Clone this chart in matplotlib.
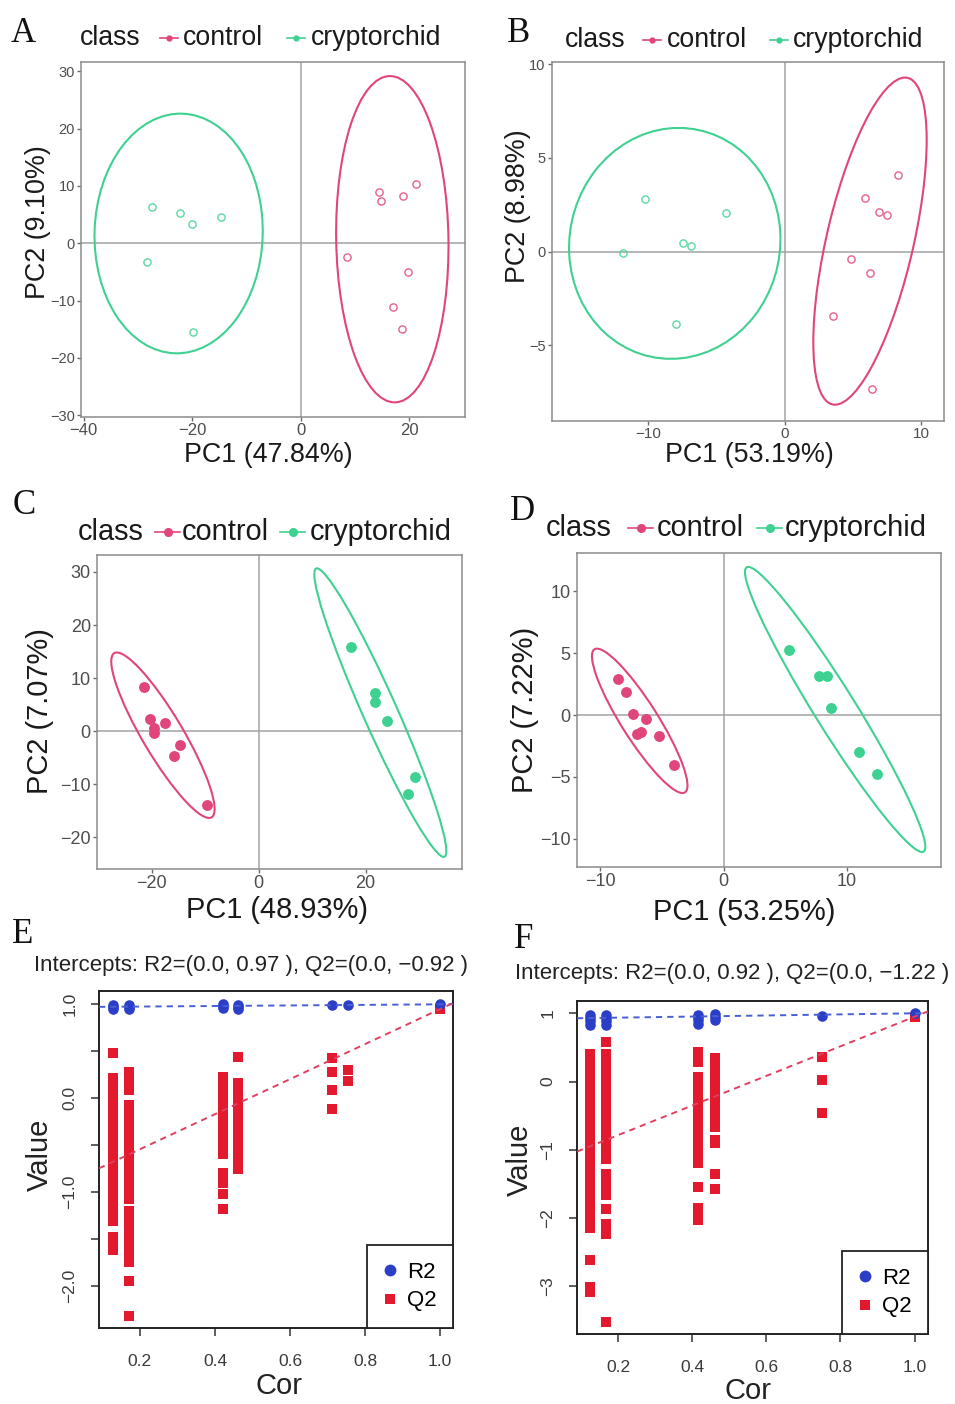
import numpy as np
import matplotlib
matplotlib.use("Agg")
import matplotlib.pyplot as plt
from matplotlib.patches import Ellipse
from matplotlib.lines import Line2D

W, H = 955, 1404
plt.rcParams['font.family'] = ['Liberation Sans', 'DejaVu Sans']

# ---------------- score plots (A-D) ----------------
# A  (PCA, hollow points)
a_ctrl_x = [14.4, 14.9, 18.8, 21.3, 8.5, 19.8, 17.0, 18.7]
a_ctrl_y = [9.0, 7.4, 8.3, 10.3, -2.4, -5.0, -11.2, -15.0]
a_cryp_x = [-27.5, -22.2, -20.1, -14.6, -28.4, -19.9]
a_cryp_y = [6.3, 5.2, 3.3, 4.5, -3.2, -15.5]
# ellipses: centre x, centre y, major, minor, angle (deg, data space)
a_ctrl_ell = (16.9, 0.7, 56.9, 20.7, 91.0)
a_cryp_ell = (-22.5, 1.7, 41.8, 31.0, 88.0)

# B
b_ctrl_x = [8.32, 5.88, 6.93, 7.49, 4.83, 6.24, 3.54, 6.41]
b_ctrl_y = [4.09, 2.88, 2.10, 1.94, -0.41, -1.16, -3.42, -7.35]
b_cryp_x = [-10.24, -4.32, -7.46, -6.88, -11.83, -7.95]
b_cryp_y = [2.81, 2.05, 0.44, 0.30, -0.05, -3.86]
b_ctrl_ell = (6.24, 0.56, 18.3, 6.23, 71.4)
b_cryp_ell = (-8.06, 0.44, 15.5, 12.3, 4.6)

# C (filled points)
c_ctrl_x = [-21.37, -20.31, -19.5, -19.5, -17.45, -14.64, -15.89, -9.66]
c_ctrl_y = [8.28, 2.32, 0.6, -0.4, 1.44, -2.70, -4.71, -13.86]
c_cryp_x = [17.26, 21.74, 21.74, 23.99, 29.16, 27.98]
c_cryp_y = [15.93, 7.15, 5.40, 1.94, -8.6, -11.86]
c_ctrl_ell = (-17.88, -0.78, 35.9, 7.6, 120.4)
c_cryp_ell = (22.74, 3.48, 59.4, 6.4, 113.8)

# D
d_ctrl_x = [-8.57, -7.89, -7.35, -6.32, -7.03, -6.68, -5.27, -4.0]
d_ctrl_y = [2.94, 1.83, 0.08, -0.35, -1.51, -1.40, -1.67, -4.04]
d_cryp_x = [5.30, 7.78, 8.43, 8.70, 10.97, 12.46]
d_cryp_y = [5.23, 3.18, 3.13, 0.54, -2.99, -4.74]
d_ctrl_ell = (-6.8, -0.47, 13.7, 2.96, 122.4)
d_cryp_ell = (9.06, 0.45, 27.1, 3.34, 122.0)

# ---------------- permutation tests (E, F) ----------------
e_cor = [0.129, 0.172, 0.42, 0.461, 0.711, 0.753, 1.0]
e_r2 = [[0.95, 0.97, 0.99], [0.95, 0.97, 0.99], [0.96, 0.98, 1.0],
        [0.95, 0.97, 0.99], [0.99], [0.99], [1.0]]
e_q2 = [
    [0.48, 0.21, 0.14, 0.06, -0.02, -0.09, -0.17, -0.25, -0.33, -0.40, -0.47,
     -0.55, -0.63, -0.70, -0.78, -0.86, -0.93, -1.01, -1.09, -1.16, -1.24,
     -1.31, -1.48, -1.56, -1.62],
    [0.28, 0.19, 0.09, -0.07, -0.15, -0.23, -0.31, -0.39, -0.47, -0.55, -0.62,
     -0.70, -0.78, -0.86, -0.93, -1.01, -1.08, -1.20, -1.27, -1.34, -1.45,
     -1.51, -1.59, -1.67, -1.75, -1.95, -2.33],
    [0.22, 0.14, 0.06, -0.02, -0.10, -0.18, -0.26, -0.34, -0.42, -0.50, -0.60,
     -0.80, -0.91, -1.02, -1.18],
    [0.44, 0.16, 0.08, -0.01, -0.09, -0.17, -0.25, -0.33, -0.41, -0.49, -0.57,
     -0.66, -0.76],
    [0.43, 0.28, 0.09, -0.12],
    [0.30, 0.18],
    [0.95],
]
e_int = (0.97, -0.92)
e_orig = (1.0, 0.95)

f_cor = [0.124, 0.167, 0.416, 0.462, 0.751, 1.0]
f_r2 = [[0.83, 0.88, 0.93, 0.98], [0.83, 0.88, 0.93, 0.98],
        [0.84, 0.90, 0.95, 0.98], [0.90, 0.95, 0.99], [0.96], [1.0]]
f_q2 = [
    [0.40, 0.29, 0.18, 0.07, -0.04, -0.15, -0.26, -0.37, -0.48, -0.59, -0.70,
     -0.81, -0.92, -1.03, -1.14, -1.25, -1.36, -1.47, -1.58, -1.69, -1.80,
     -1.91, -2.02, -2.15, -2.62, -3.01, -3.09],
    [0.58, 0.40, 0.29, 0.18, 0.07, -0.04, -0.15, -0.26, -0.37, -0.48, -0.59,
     -0.70, -0.81, -0.92, -1.02, -1.13, -1.35, -1.46, -1.57, -1.67, -1.87,
     -2.09, -2.23, -3.52],
    [0.43, 0.29, 0.07, -0.04, -0.15, -0.26, -0.37, -0.48, -0.59, -0.70, -0.81,
     -0.92, -1.03, -1.12, -1.20, -1.54, -1.86, -1.96, -2.03],
    [0.34, 0.23, 0.12, 0.01, -0.10, -0.21, -0.32, -0.43, -0.54, -0.66, -0.86,
     -0.90, -1.35, -1.57],
    [0.36, 0.02, -0.46],
    [0.95],
]
f_int = (0.92, -1.22)
f_orig = (1.0, 0.95)

CTRL = '#e0457b'
CRYP = '#3fd191'
BLUE = '#2a3ec8'
RED = '#e3192e'

fig = plt.figure(figsize=(W / 100, H / 100), dpi=100)


def fx(x):
    return x / W


def fy(y):
    return 1 - y / H


def px_axes(l, t, r, b):
    return fig.add_axes([l / W, 1 - b / H, (r - l) / W, (b - t) / H])


def score_panel(box, cx, cy, kx, ky, c_ell, k_ell, xlim, ylim, xt, yt,
                filled, fs_x, fs_y):
    ax = px_axes(*box)
    ax.axhline(0, color='#a3a3a3', lw=1.1, zorder=1)
    ax.axvline(0, color='#a3a3a3', lw=1.1, zorder=1)
    for ell, col in ((c_ell, CTRL), (k_ell, CRYP)):
        ax.add_patch(Ellipse((ell[0], ell[1]), ell[2], ell[3], angle=ell[4],
                             fill=False, ec=col, lw=1.5, zorder=2))
    for xs, ys, col in ((cx, cy, CTRL), (kx, ky, CRYP)):
        if filled:
            ax.plot(xs, ys, 'o', ms=6.8, color=col, zorder=3)
        else:
            ax.plot(xs, ys, 'o', ms=5.2, mfc='none', mec=col, mew=1.0,
                    alpha=0.85, zorder=3)
    ax.set_xlim(xlim)
    ax.set_ylim(ylim)
    ax.set_xticks(xt)
    ax.set_yticks(yt)
    for s in ax.spines.values():
        s.set_color('#8c8c8c')
        s.set_linewidth(1.1)
    ax.tick_params(colors='#6b6b6b', labelcolor='#4d4d4d', length=3, width=1,
                   pad=1.5)
    ax.tick_params(axis='x', labelsize=fs_x)
    ax.tick_params(axis='y', labelsize=fs_y)
    return ax


def class_legend(base, x_class, k1, t1, k2, t2, fs, keylen, ms):
    fig.text(fx(x_class), fy(base), 'class', fontsize=fs, va='baseline',
             ha='left', color='#1a1a1a')
    ky = base - fs * 1.39 * 0.27
    for xk, xt, col, lab in ((k1, t1, CTRL, 'control'),
                             (k2, t2, CRYP, 'cryptorchid')):
        fig.add_artist(Line2D([fx(xk), fx(xk + keylen)], [fy(ky), fy(ky)],
                              color=col, lw=1.2))
        fig.add_artist(Line2D([fx(xk + keylen / 2)], [fy(ky)], marker='o',
                              ms=ms, color=col, lw=0))
        fig.text(fx(xt), fy(base), lab, fontsize=fs, va='baseline', ha='left',
                 color='#1a1a1a')


def axis_labels(xl, xpos, yl, ypos, fs):
    fig.text(fx(xpos[0]), fy(xpos[1]), xl, fontsize=fs, ha='center',
             va='center', color='#1a1a1a')
    fig.text(fx(ypos[0]), fy(ypos[1]), yl, fontsize=fs, ha='center',
             va='center', rotation=90, color='#1a1a1a')


# ---- A ----
score_panel((81, 62, 465, 417), a_ctrl_x, a_ctrl_y, a_cryp_x, a_cryp_y,
            a_ctrl_ell, a_cryp_ell, (-40.5, 30.3), (-30.3, 31.6),
            [-40, -20, 0, 20], [-30, -20, -10, 0, 10, 20, 30], False, 12, 10.5)
class_legend(45, 80, 160, 183, 287, 311, 19.2, 18, 3.5)
axis_labels('PC1 (47.84%)', (268, 455), 'PC2 (9.10%)', (38, 222), 19.4)

# ---- B ----
score_panel((552, 62, 944, 421), b_ctrl_x, b_ctrl_y, b_cryp_x, b_cryp_y,
            b_ctrl_ell, b_cryp_ell, (-17.05, 11.66), (-9.04, 10.12),
            [-10, 0, 10], [-5, 0, 5, 10], False, 11, 10.5)
class_legend(47, 565, 643, 667, 770, 793, 19.2, 18, 3.5)
axis_labels('PC1 (53.19%)', (749, 455), 'PC2 (8.98%)', (518, 206), 19.4)

# ---- C ----
score_panel((97, 555, 462, 869), c_ctrl_x, c_ctrl_y, c_cryp_x, c_cryp_y,
            c_ctrl_ell, c_cryp_ell, (-30.2, 38.0), (-26.0, 33.2),
            [-20, 0, 20], [-20, -10, 0, 10, 20, 30], True, 13, 13)
class_legend(540, 78, 155, 182, 280, 310, 20.9, 25, 5.5)
axis_labels('PC1 (48.93%)', (277, 910), 'PC2 (7.07%)', (40, 711), 20.9)

# ---- D ----
score_panel((577, 553, 941, 867), d_ctrl_x, d_ctrl_y, d_cryp_x, d_cryp_y,
            d_ctrl_ell, d_cryp_ell, (-11.89, 17.65), (-12.29, 13.1),
            [-10, 0, 10], [-10, -5, 0, 5, 10], True, 13, 13)
class_legend(536, 546, 628, 657, 757, 785, 20.9, 25, 5.5)
axis_labels('PC1 (53.25%)', (744, 912), 'PC2 (7.22%)', (525, 710), 20.9)


# ---- permutation panels ----
def perm_panel(box, cor, r2, q2, ints, orig, xlim, ylim, yt, ylab, title,
               tpos, cpos, vpos):
    ax = px_axes(*box)
    rx = np.concatenate([[c] * len(v) for c, v in zip(cor, r2)])
    ry = np.concatenate(r2)
    qx = np.concatenate([[c] * len(v) for c, v in zip(cor, q2)])
    qy = np.concatenate(q2)
    ax.plot(qx, qy, 's', ms=7.0, color=RED, mew=0, zorder=2)
    ax.plot(rx, ry, 'o', ms=7.6, color=BLUE, mew=0, zorder=2)
    ax.axline((0, ints[0]), (1, orig[0]), color='#4a5fd6', lw=1.4,
              ls=(0, (3.2, 2.6)), zorder=3)
    ax.axline((0, ints[1]), (1, orig[1]), color='#e0405e', lw=1.4,
              ls=(0, (3.2, 2.6)), zorder=3)
    ax.set_xlim(xlim)
    ax.set_ylim(ylim)
    ax.set_xticks([0.2, 0.4, 0.6, 0.8, 1.0])
    ax.set_xticklabels(['0.2', '0.4', '0.6', '0.8', '1.0'])
    ax.set_yticks(yt)
    ax.set_yticklabels(ylab, rotation=90, va='center')
    for s in ax.spines.values():
        s.set_color('#222222')
        s.set_linewidth(1.4)
    ax.tick_params(colors='#333333', labelcolor='#3a3a3a', length=5.5,
                   width=1.1, labelsize=12.5)
    ax.tick_params(axis='x', pad=13)
    ax.tick_params(axis='y', pad=10)
    leg = ax.legend(handles=[
        Line2D([], [], marker='o', ls='', color=BLUE, ms=8.5, mew=0),
        Line2D([], [], marker='s', ls='', color=RED, ms=7.5, mew=0)],
        labels=['R2', 'Q2'], loc='lower right', borderaxespad=0,
        fontsize=16, fancybox=False, framealpha=1, handlelength=0.6,
        handletextpad=0.45, borderpad=0.75, labelspacing=0.35)
    leg.get_frame().set_edgecolor('#222222')
    leg.get_frame().set_linewidth(1.3)
    fig.text(fx(tpos[0]), fy(tpos[1]), title, fontsize=16, ha='center',
             va='center', color='#222222')
    fig.text(fx(cpos[0]), fy(cpos[1]), 'Cor', fontsize=21, ha='center',
             va='center', color='#222222')
    fig.text(fx(vpos[0]), fy(vpos[1]), 'Value', fontsize=21, ha='center',
             va='center', rotation=90, color='#222222')
    return ax


perm_panel((99, 991, 453, 1328), e_cor, e_r2, e_q2, e_int, e_orig,
           (0.091, 1.034), (-2.453, 1.142),
           [-2.0, -1.5, -1.0, -0.5, 0.0, 0.5, 1.0],
           ['\u22122.0', '', '\u22121.0', '', '0.0', '', '1.0'],
           'Intercepts: R2=(0.0, 0.97 ), Q2=(0.0, \u22120.92 )',
           (251, 966), (279, 1386), (40, 1155))

perm_panel((577, 1001, 928, 1334), f_cor, f_r2, f_q2, f_int, f_orig,
           (0.0894, 1.036), (-3.70, 1.18),
           [-3, -2, -1, 0, 1],
           ['\u22123', '\u22122', '\u22121', '0', '1'],
           'Intercepts: R2=(0.0, 0.92 ), Q2=(0.0, \u22121.22 )',
           (732, 973), (748, 1391), (520, 1160))

# panel letters
for lab, x, base in (('A', 11, 42), ('B', 507, 42), ('C', 13, 514),
                     ('D', 510, 520), ('E', 12, 943), ('F', 514, 948)):
    fig.text(fx(x), fy(base), lab, fontsize=25, family='Liberation Serif',
             va='baseline', ha='left', color='#111111')

fig.savefig('out.png', dpi=100, facecolor='white')
